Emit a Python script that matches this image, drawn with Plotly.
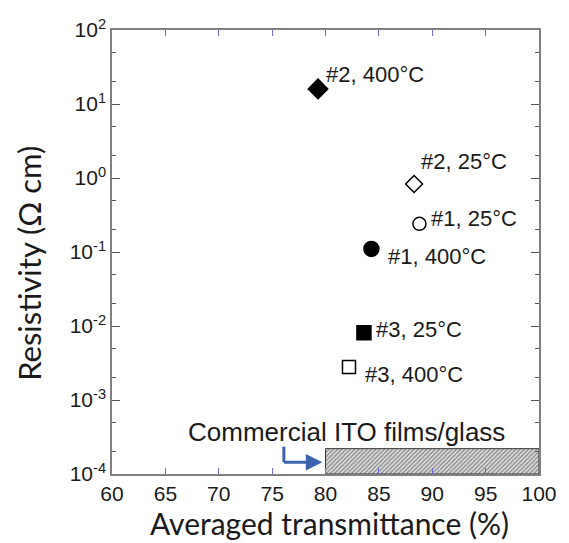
import math
import plotly.graph_objects as go

# Sample measurements: averaged transmittance (%) vs resistivity (ohm cm)
sample_labels = ["#2, 400°C", "#2, 25°C", "#1, 25°C", "#1, 400°C", "#3, 25°C", "#3, 400°C"]
transmittance = [79.3, 88.3, 88.8, 84.3, 83.6, 82.2]
resistivity = [16.0, 0.83, 0.24, 0.11, 0.0081, 0.0028]
marker_symbols = ["diamond", "diamond-open", "circle-open", "circle", "square", "square-open"]
marker_sizes = [15, 13, 13, 15, 14, 13]
# label offsets in pixels (right, up) from each marker
label_dx = [6, 5, 10, 15, 10, 14]
label_dy = [14, 22, 5, -8, 3, -8]

# Commercial ITO band
ito_x = [80, 100]
ito_y = [1e-4, 2.2e-4]
ito_text = "Commercial ITO films/glass"

x_ticks = [60, 65, 70, 75, 80, 85, 90, 95, 100]
y_exponents = [-4, -3, -2, -1, 0, 1, 2]

x_title = "Averaged transmittance (%)"
y_title = "Resistivity (Ω cm)"

LABEL_FONT = "Arial, Liberation Sans"
TITLE_FONT = "Lato"
TEXT_COLOR = "#1a1a1a"
ARROW_COLOR = "#3b63b0"

fig = go.Figure()

# hatched band for commercial ITO
fig.add_trace(go.Scatter(
    x=[ito_x[0], ito_x[1], ito_x[1], ito_x[0], ito_x[0]],
    y=[ito_y[0], ito_y[0], ito_y[1], ito_y[1], ito_y[0]],
    mode="lines", fill="toself",
    line=dict(color="#333333", width=1),
    fillcolor="rgba(0,0,0,0)",
    fillpattern=dict(shape="/", fgcolor="#3a3a3a", bgcolor="#e4e4e4", size=3, solidity=0.5),
    hoverinfo="skip", showlegend=False,
))

for i in range(len(sample_labels)):
    fig.add_trace(go.Scatter(
        x=[transmittance[i]], y=[resistivity[i]], mode="markers",
        marker=dict(symbol=marker_symbols[i], size=marker_sizes[i], color="black",
                    line=dict(color="black", width=1.5)),
        showlegend=False, name=sample_labels[i],
    ))

for i, lab in enumerate(sample_labels):
    fig.add_annotation(
        x=transmittance[i], y=math.log10(resistivity[i]), text=lab, showarrow=False,
        xanchor="left", yanchor="middle", xshift=label_dx[i], yshift=label_dy[i],
        font=dict(family=LABEL_FONT, size=22, color=TEXT_COLOR),
    )

# bent arrow pointing to the ITO band
arrow_x0 = 76.1
arrow_ytop = -3.63
arrow_ycorner = -3.84
fig.add_trace(go.Scatter(
    x=[arrow_x0, arrow_x0], y=[10 ** arrow_ytop, 10 ** arrow_ycorner], mode="lines",
    line=dict(color=ARROW_COLOR, width=3), hoverinfo="skip", showlegend=False,
))
fig.add_annotation(
    x=ito_x[0] - 0.3, y=arrow_ycorner, ax=arrow_x0 - 0.13, ay=arrow_ycorner,
    axref="x", ayref="y", xref="x", yref="y", text="", showarrow=True,
    arrowhead=2, arrowsize=1.1, arrowwidth=3, arrowcolor=ARROW_COLOR,
)

fig.add_annotation(
    x=82.0, y=-3.43, text=ito_text, showarrow=False, xanchor="center", yanchor="middle",
    font=dict(family=LABEL_FONT, size=26, color=TEXT_COLOR),
)

# axis titles
fig.add_annotation(
    xref="paper", yref="paper", x=0.51, y=-0.153, text=x_title, showarrow=False,
    xanchor="center", yanchor="bottom", borderpad=0,
    font=dict(family=TITLE_FONT, size=30, color=TEXT_COLOR),
)
fig.add_annotation(
    xref="paper", yref="paper", x=-0.195, y=0.475, text=y_title, showarrow=False,
    textangle=-90, xanchor="center", yanchor="middle",
    font=dict(family=TITLE_FONT, size=31, color=TEXT_COLOR),
)

fig.update_layout(
    width=569, height=543,
    margin=dict(l=112, r=30, t=30, b=69),
    paper_bgcolor="white", plot_bgcolor="white",
    font=dict(family=LABEL_FONT, color=TEXT_COLOR),
)

fig.update_xaxes(
    range=[60, 100], tickvals=x_ticks, ticktext=[str(v) for v in x_ticks],
    showline=True, linecolor="#808080", linewidth=1.5, mirror="ticks",
    ticks="inside", ticklen=6, tickcolor="#6b6bd6", tickwidth=1.2,
    showgrid=False, zeroline=False,
    tickfont=dict(family=LABEL_FONT, size=21, color=TEXT_COLOR),
)
fig.update_yaxes(
    type="log", range=[-4, 2],
    tickvals=[10 ** e for e in y_exponents],
    ticktext=["10<sup>%d</sup>" % e for e in y_exponents],
    showline=True, linecolor="#808080", linewidth=1.5, mirror="ticks",
    ticks="inside", ticklen=8, tickcolor="#555555", tickwidth=1.2,
    minor=dict(ticks="inside", ticklen=4, tickcolor="#555555", tickwidth=1, showgrid=False),
    showgrid=False, zeroline=False,
    tickfont=dict(family=LABEL_FONT, size=21, color=TEXT_COLOR),
)

fig.write_html("out.html")
